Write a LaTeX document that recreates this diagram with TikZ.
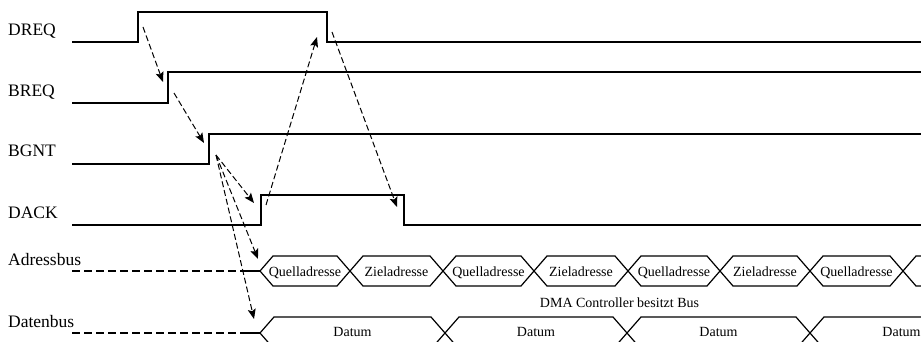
\documentclass[tikz,border=0pt]{standalone}
\usepackage{fontspec}
\setmainfont{Liberation Serif}
\usetikzlibrary{arrows.meta}
\begin{document}
\begin{tikzpicture}[x=1pt,y=-1pt,
  sig/.style={line width=1.3pt, line join=miter},
  bus/.style={line width=1.2pt, line join=miter},
  lead/.style={line width=1.2pt, dash pattern=on 8pt off 4pt},
  dep/.style={line width=1pt, dash pattern=on 6pt off 3pt, -{Stealth[length=10pt,width=8pt,inset=2pt]}},
  lab/.style={font=\fontsize{17.5}{20}\selectfont, anchor=base west, inner sep=0pt},
  btxt/.style={font=\fontsize{14}{16}\selectfont, anchor=base, inner sep=0pt}]
\useasboundingbox (0,0) rectangle (921,342);
\clip (0,0) rectangle (921,342);
\fill[white] (0,0) rectangle (921,342);

% labels
\node[lab] (lDREQ) at (8,36) {DREQ};
\node[lab] (lBREQ) at (8,97) {BREQ};
\node[lab] (lBGNT) at (8,157) {BGNT};
\node[lab] (lDACK) at (8,218) {DACK};
\node[lab] (lAdr) at (8,265) {Adressbus};
\node[lab] (lDat) at (8,327) {Datenbus};

% signals
\draw[sig] (72,42) -- (138,42) -- (138,12) -- (327,12) -- (327,42) -- (921,42);
\draw[sig] (72,103) -- (168,103) -- (168,72) -- (921,72);
\draw[sig] (72,164) -- (209,164) -- (209,134) -- (921,134);
\draw[sig] (72,225) -- (261,225) -- (261,195) -- (404,195) -- (404,225) -- (921,225);

% address bus
\draw[lead] (72,271) -- (243,271);
\draw[bus] (243,271) -- (260,271);
\foreach \a/\b/\t [count=\i] in {260/350/Quelladresse, 350/443/Zieladresse, 443/534/Quelladresse, 534/628/Zieladresse, 628/720/Quelladresse, 720/810/Zieladresse, 810/903/Quelladresse}{
  \draw[bus] (\a,271) -- (\a+13,256) -- (\b-13,256) -- (\b,271) -- (\b-13,286) -- (\a+13,286) -- cycle;
  \node[btxt] (ab\i) at ({(\a+\b)/2},276) {\t};
}
\draw[bus] (930,256) -- (916,256) -- (903,271) -- (916,286) -- (930,286);

\node[btxt] (dma) at (619.5,307) {DMA Controller besitzt Bus};

% data bus
\draw[lead] (72,333) -- (243,333);
\draw[bus] (243,333) -- (260,333);
\foreach \a/\b [count=\i] in {260/445, 445/627, 627/810, 810/993}{
  \draw[bus] (\a,333) -- (\a+14,317) -- (\b-14,317) -- (\b,333) -- (\b-14,349) -- (\a+14,349) -- cycle;
  \node[btxt] (db\i) at ({(\a+\b)/2},336) {Datum};
}

% dependency arrows
\coordinate (p1s) at (143,27);  \coordinate (p1e) at (163,82);
\coordinate (p2s) at (174,93);  \coordinate (p2e) at (204,143);
\coordinate (g0) at (216,155);
\coordinate (gD) at (254,203);
\coordinate (gA) at (258,259);
\coordinate (gB) at (254,319);
\coordinate (p3s) at (266,205); \coordinate (p3e) at (317,37);
\coordinate (p4s) at (332,32);  \coordinate (p4e) at (397,207);

\draw[dep] (p1s) -- (p1e);
\draw[dep] (p2s) -- (p2e);
\draw[dep] (g0) -- (gD);
\draw[dep] (g0) -- (gA);
\draw[dep] (g0) -- (gB);
\draw[dep] (p3s) -- (p3e);
\draw[dep] (p4s) -- (p4e);
\end{tikzpicture}
\end{document}
